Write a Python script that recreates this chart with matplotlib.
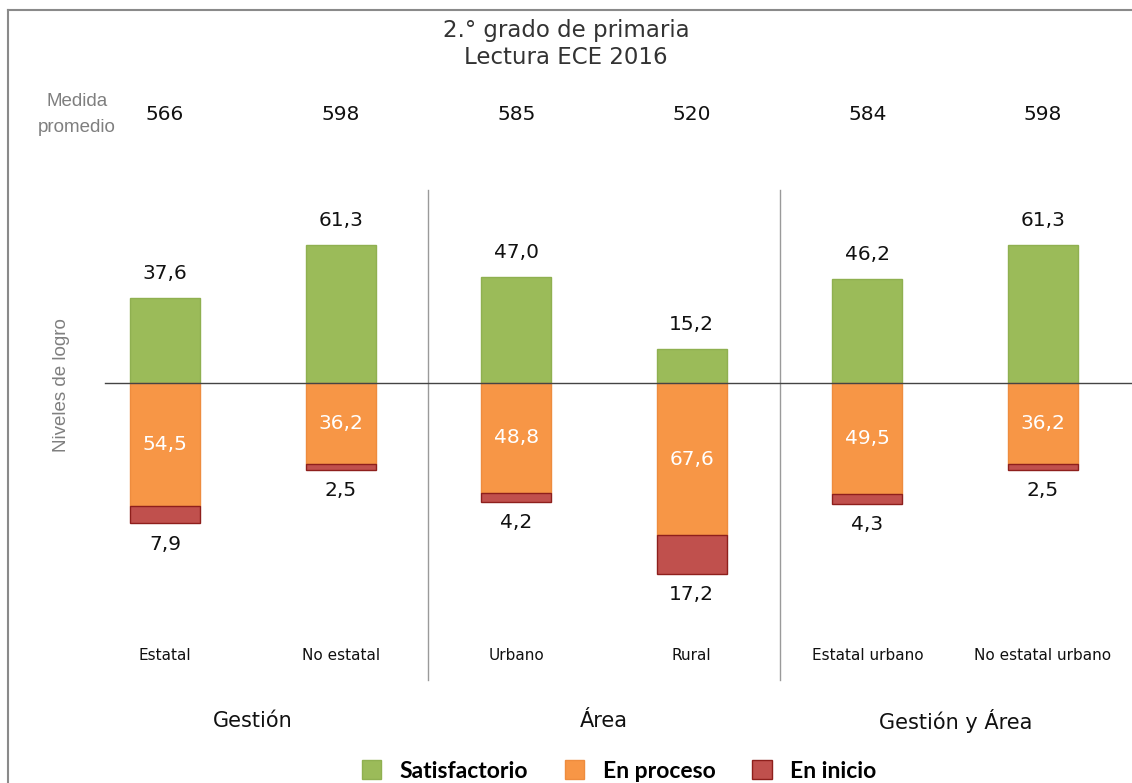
import matplotlib.pyplot as plt
from matplotlib.patches import Patch
from matplotlib.lines import Line2D

# datos ECE 2016, lectura 2.° grado
categorias = ["Estatal", "No estatal", "Urbano", "Rural", "Estatal urbano", "No estatal urbano"]
satisfactorio = [37.6, 61.3, 47.0, 15.2, 46.2, 61.3]
en_proceso = [54.5, 36.2, 48.8, 67.6, 49.5, 36.2]
en_inicio = [7.9, 2.5, 4.2, 17.2, 4.3, 2.5]
medida = [566, 598, 585, 520, 584, 598]
grupos = ["Gestión", "Área", "Gestión y Área"]

verde = "#9BBB59"
naranja = "#F79646"
rojo = "#C0504D"

W, H = 1132, 783
fig = plt.figure(figsize=(W / 100, H / 100), dpi=100)
ax = fig.add_axes([0, 0, 1, 1])

# escala: 2.25 px por punto porcentual, linea base en y=383 px
ppu = 2.25
base = 383
paso = 175.6
x0 = 165
ax.set_xlim(-x0 / paso, (W - x0) / paso)
ax.set_ylim(-(H - base) / ppu, base / ppu)
ax.axis("off")

def fmt(v):
    return f"{v:.1f}".replace(".", ",")

x = list(range(len(categorias)))
ancho = 70 / paso

neg_proc = [-v for v in en_proceso]
neg_ini = [-v for v in en_inicio]

ax.bar(x, satisfactorio, width=ancho, color=verde, edgecolor="#8FB050", linewidth=1, zorder=2)
ax.bar(x, neg_proc, width=ancho, color=naranja, edgecolor="#EE8C3E", linewidth=1, zorder=2)
ax.bar(x, neg_ini, bottom=neg_proc, width=ancho, color=rojo, edgecolor="#8E1F1C", linewidth=1, zorder=2)

# linea base
ax.plot([(105 - x0) / paso, (W - x0) / paso], [0, 0], color="#444444", lw=1, zorder=3)

# separadores de grupo
for s in [1.5, 3.5]:
    ax.plot([s, s], [(base - 190) / ppu, -(680 - base) / ppu], color="#9a9a9a", lw=1)

num_font = "DejaVu Sans"
for i in x:
    ax.annotate(fmt(satisfactorio[i]), (i, satisfactorio[i]), xytext=(0, 11), textcoords="offset points",
                ha="center", va="bottom", fontsize=14.5, family=num_font, color="#111111")
    ax.text(i, -en_proceso[i] / 2, fmt(en_proceso[i]), ha="center", va="center",
            fontsize=14.5, family=num_font, color="white")
    ax.annotate(fmt(en_inicio[i]), (i, -(en_proceso[i] + en_inicio[i])), xytext=(0, -8),
                textcoords="offset points", ha="center", va="top", fontsize=14.5, family=num_font,
                color="#111111")
    ax.text(i, (base - 114) / ppu, str(medida[i]), ha="center", va="center",
            fontsize=14.5, family=num_font, color="#111111")
    ax.text(i, -(655 - base) / ppu, categorias[i], ha="center", va="center",
            fontsize=11, family=num_font, color="#111111")

for g, nombre in enumerate(grupos):
    ax.text(2 * g + 0.5, -(721 - base) / ppu, nombre, ha="center", va="center",
            fontsize=15, family=num_font, color="#111111")

# textos laterales
fig.text(77 / W, 1 - 101 / H, "Medida", ha="center", va="center", fontsize=13.5,
         family="Liberation Sans", color="#7f7f7f")
fig.text(77 / W, 1 - 128 / H, "promedio", ha="center", va="center", fontsize=13.5,
         family="Liberation Sans", color="#7f7f7f")
fig.text(62 / W, 1 - 385 / H, "Niveles de logro", ha="center", va="center", rotation=90,
         fontsize=13.5, family="Liberation Sans", color="#7f7f7f")

# titulo
fig.text(566 / W, 1 - 31 / H, "2.° grado de primaria", ha="center", va="center",
         fontsize=16.5, color="#333333")
fig.text(566 / W, 1 - 58 / H, "Lectura ECE 2016", ha="center", va="center",
         fontsize=16.5, color="#333333")

# marco
fig.add_artist(Line2D([8 / W, 1], [1 - 10 / H, 1 - 10 / H], color="#8a8a8a", lw=1.5))
fig.add_artist(Line2D([8 / W, 8 / W], [0, 1 - 10 / H], color="#8a8a8a", lw=1.5))

# leyenda
handles = [Patch(facecolor=verde, edgecolor="#8FB050"),
           Patch(facecolor=naranja, edgecolor="#EE8C3E"),
           Patch(facecolor=rojo, edgecolor="#8E1F1C")]
fig.legend(handles, ["Satisfactorio", "En proceso", "En inicio"], loc="center",
           bbox_to_anchor=(619 / W, 1 - 771 / H), ncol=3, frameon=False,
           prop={"family": "Lato", "weight": "bold", "size": 16.5},
           handlelength=0.85, handleheight=0.85, columnspacing=1.6, handletextpad=0.8)

fig.savefig("out.png", dpi=100)
